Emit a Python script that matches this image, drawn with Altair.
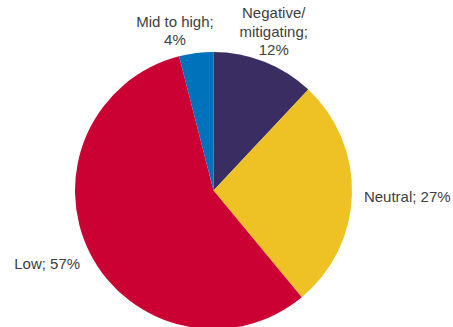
import altair as alt
import pandas as pd

# Share of responses by impact category, clockwise from 12 o'clock
categories = ["Negative/mitigating", "Neutral", "Low", "Mid to high"]
labels = ["Negative/\nmitigating;\n12%", "Neutral; 27%", "Low; 57%", "Mid to high;\n4%"]
shares = [12, 27, 57, 4]
colors = ["#3A2D61", "#EEC224", "#CB0033", "#0071BB"]

df = pd.DataFrame({
    "category": categories,
    "label": labels,
    "share": shares,
    "rank": list(range(len(categories))),
})

CX, CY, R = 213.5, 190.5, 138.5
FONT = "Liberation Sans"

base = alt.Chart(df).encode(
    theta=alt.Theta("share:Q", stack=True),
    order=alt.Order("rank:O"),
    x=alt.value(CX),
    y=alt.value(CY),
)

pie = base.mark_arc(radius=R).encode(
    color=alt.Color(
        "category:N",
        scale=alt.Scale(domain=categories, range=colors),
        legend=None,
    )
)


def label_layer(cat, radius, align="center", dx=0, dy=0):
    # one text layer per label; other rows get an empty string so the stack stays intact
    return base.transform_calculate(
        txt=f"datum.category == '{cat}' ? datum.label : ''"
    ).mark_text(
        radius=radius,
        align=align,
        baseline="middle",
        dx=dx,
        dy=dy,
        lineBreak="\n",
        lineHeight=18.5,
        font=FONT,
        fontSize=15,
        color="#404040",
    ).encode(text="txt:N")


chart = alt.layer(
    pie,
    label_layer("Negative/mitigating", 169, dx=-2, dy=-20),
    label_layer("Neutral", 150.5, align="left", dy=2),
    label_layer("Low", 152, align="right", dx=2, dy=4.5),
    label_layer("Mid to high", 164, dx=-18, dy=-6),
).properties(
    width=453,
    height=327,
    padding=0,
    autosize=alt.AutoSizeParams(type="none"),
    background="white",
).configure_view(stroke=None)

chart.save("out.html", embed_options={"renderer": "svg", "actions": False})
